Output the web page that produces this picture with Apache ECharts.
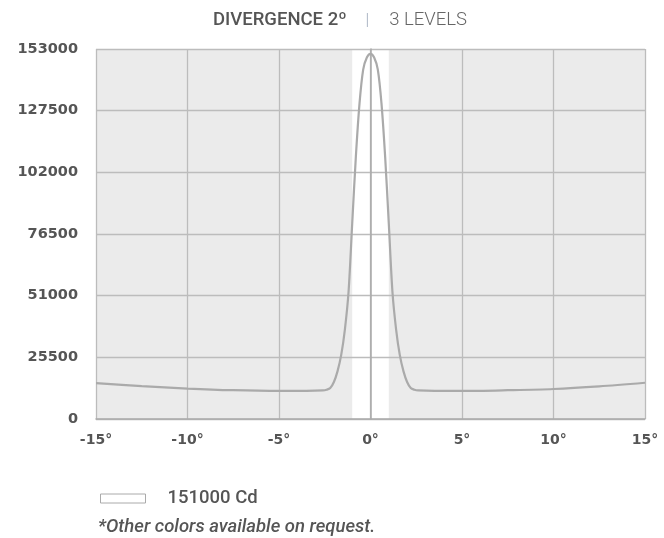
<!DOCTYPE html>
<html>
<head>
<meta charset="utf-8">
<script src="https://cdn.jsdelivr.net/npm/echarts@6/dist/echarts.min.js"></script>
<style>
html,body{margin:0;padding:0;background:#fff;}
#chart{width:664px;height:538px;}
</style>
</head>
<body>
<div id="chart"></div>
<script>
// ---- data ----
var angles = [-15,-12.5,-10,-7.5,-5,-3.5,-2.6,-2.4,-2.2,-2.0,-1.8,-1.6,-1.4,-1.2,-1.0,-0.8,-0.6,-0.4,-0.2,0,0.2,0.4,0.6,0.8,1.0,1.2,1.4,1.6,1.8,2.0,2.2,2.4,2.6,3.5,5,7.5,10,12.5,15];
var intensity = [14800,13600,12600,11900,11600,11600,11800,12100,12800,15300,19800,26500,37000,52500,80800,108500,130500,144500,149500,151000,149500,144500,130500,108500,80800,52500,37000,26500,19800,15300,12800,12100,11800,11600,11600,11900,12400,13500,15000];
var xTicks = [-15,-10,-5,0,5,10,15];
var yTicks = [0,25500,51000,76500,102000,127500,153000];
var beamBand = [-1, 1];
var seriesName = '151000 Cd';
var titleMain = 'DIVERGENCE 2º';
var titleSub = '3 LEVELS';
var footnote = '*Other colors available on request.';

var pts = angles.map(function(a,i){return [a,intensity[i]];});
var xMin = xTicks[0], xMax = xTicks[xTicks.length-1];
var yMax = yTicks[yTicks.length-1];

var chart = echarts.init(document.getElementById('chart'));
chart.setOption({
  animation:false,
  backgroundColor:'#fff',
  title:[{
    left:213, top:11, padding:0,
    text:'{b|'+titleMain+'}{s||}{n|'+titleSub+'}',
    textStyle:{
      rich:{
        b:{fontFamily:'Roboto',fontSize:18.5,fontWeight:500,color:'#555'},
        s:{fontFamily:'Roboto',fontSize:16,fontWeight:300,color:'#9aa6b8',padding:[0,20,0,19]},
        n:{fontFamily:'Roboto',fontSize:18.5,fontWeight:300,color:'#666'}
      }
    }
  },{
    left:98, top:518, padding:0,
    text:footnote,
    textStyle:{fontFamily:'Roboto',fontSize:18.5,fontStyle:'italic',fontWeight:500,color:'#555'}
  }],
  legend:{
    left:100, top:489, padding:0,
    icon:'rect', itemWidth:45, itemHeight:9,
    itemStyle:{color:'#fff',borderColor:'#aaa',borderWidth:1},
    data:[seriesName],
    textStyle:{fontFamily:'Roboto',fontSize:18.5,fontWeight:500,color:'#555',padding:[0,0,0,17]}
  },
  grid:{left:96,right:19,top:49,bottom:119,show:false},
  xAxis:{
    type:'value', min:xMin, max:xMax, interval:5, z:2,
    axisLine:{show:true,onZero:false,lineStyle:{color:'#aaa',width:1.5}},
    axisTick:{show:false},
    splitLine:{show:true,lineStyle:{color:'#bcbcbc',width:1.3}},
    axisLabel:{margin:14,fontFamily:'DejaVu Sans',fontWeight:'bold',fontSize:14,color:'#555',
      formatter:function(v){return v+'°';}}
  },
  yAxis:{
    type:'value', min:0, max:yMax, interval:25500, z:2,
    axisLine:{show:true,lineStyle:{color:'#aaa',width:1.5}},
    axisTick:{show:false},
    splitLine:{show:true,lineStyle:{color:'#bcbcbc',width:1.3}},
    axisLabel:{margin:18,fontFamily:'DejaVu Sans',fontWeight:'bold',fontSize:14.5,color:'#555',
      formatter:function(v){return String(v);}}
  },
  series:[{
    name:'bg', type:'line', data:[], z:1, silent:true,
    markArea:{silent:true,itemStyle:{color:'#ebebeb'},
      data:[[{xAxis:xMin,yAxis:0},{xAxis:beamBand[0],yAxis:yMax}],
            [{xAxis:beamBand[1],yAxis:0},{xAxis:xMax,yAxis:yMax}]]}
  },{
    name:seriesName, type:'line', data:pts, smooth:0.3, showSymbol:false, z:3,
    lineStyle:{color:'#aaa',width:2.2},
    itemStyle:{color:'#fff',borderColor:'#aaa'}
  }]
});
</script>
</body>
</html>
